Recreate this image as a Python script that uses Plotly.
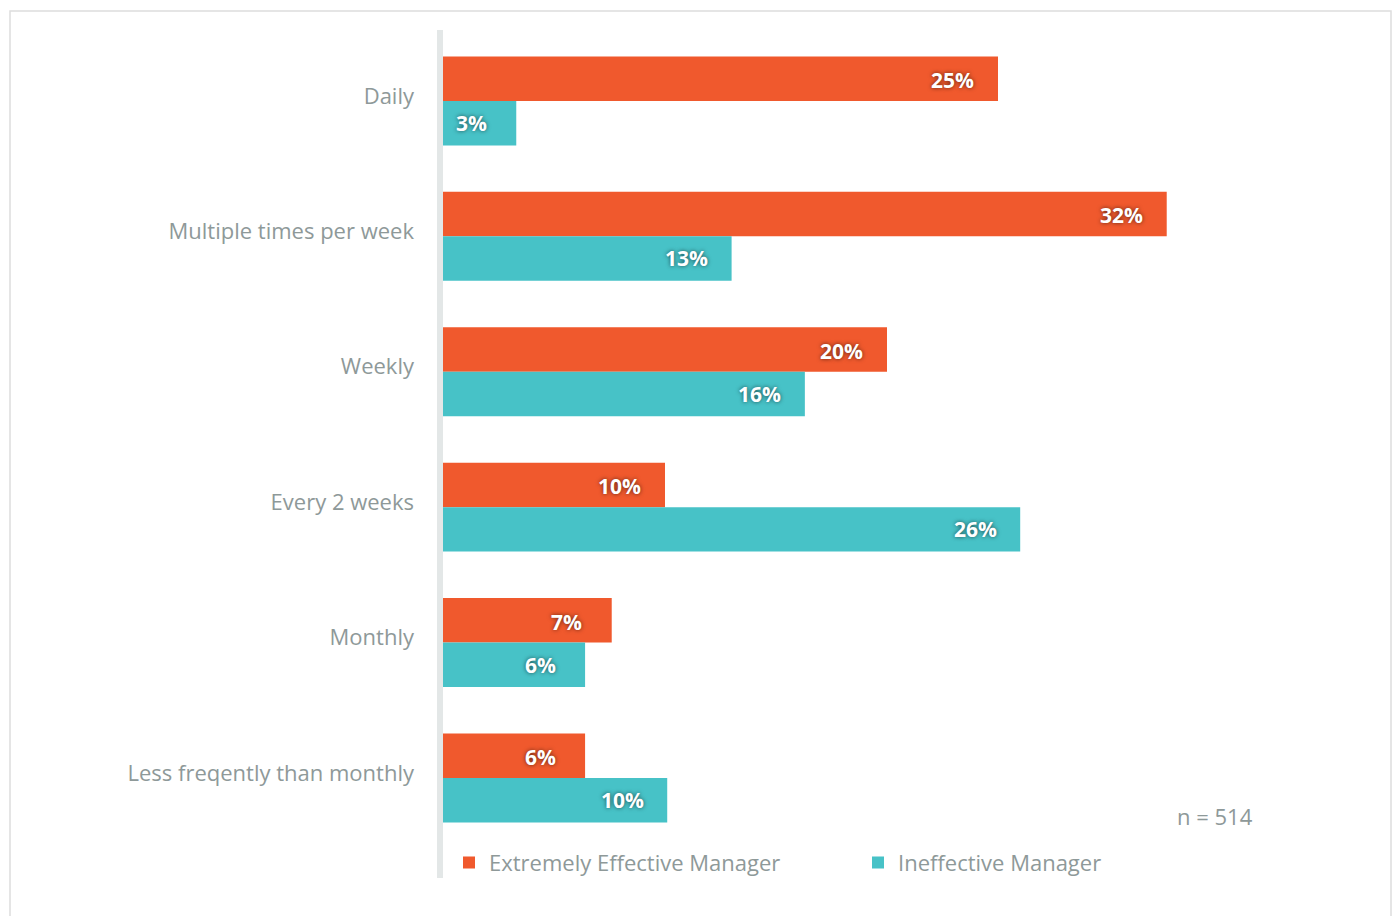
import plotly.graph_objects as go

categories = ["Daily", "Multiple times per week", "Weekly", "Every 2 weeks",
              "Monthly", "Less freqently than monthly"]
effective = [25.0, 32.6, 20.0, 10.0, 7.6, 6.4]
ineffective = [3.3, 13.0, 16.3, 26.0, 6.4, 10.1]
effective_labels = ["25%", "32%", "20%", "10%", "7%", "6%"]
ineffective_labels = ["3%", "13%", "16%", "26%", "6%", "10%"]
series_names = ["Extremely Effective Manager", "Ineffective Manager"]
note = "n = 514"

ORANGE = "#F0592D"
TEAL = "#47C2C7"
GRAY = "#8E9999"
FONT = "Open Sans, Lato, sans-serif"

fig = go.Figure()
fig.add_trace(go.Bar(y=categories, x=effective, orientation="h", name=series_names[0],
                     marker=dict(color=ORANGE, line=dict(width=0)), hoverinfo="skip"))
fig.add_trace(go.Bar(y=categories, x=ineffective, orientation="h", name=series_names[1],
                     marker=dict(color=TEAL, line=dict(width=0)), hoverinfo="skip"))

label_font = dict(family=FONT, size=21, color="white", weight="bold",
                  shadow="0px 0px 4px rgba(0,0,0,0.6)")
inset = 2.03
for cat, v, t in zip(categories, effective, effective_labels):
    fig.add_annotation(x=v - inset, y=cat, text=t, showarrow=False, yshift=21,
                       font=label_font, xanchor="center", yanchor="middle")
for cat, v, t in zip(categories, ineffective, ineffective_labels):
    fig.add_annotation(x=v - inset, y=cat, text=t, showarrow=False, yshift=-22,
                       font=label_font, xanchor="center", yanchor="middle")

fig.add_annotation(x=1.0, xref="x domain", y=0.073, yref="y domain", text=note,
                   showarrow=False, xanchor="right", yanchor="middle", xshift=-138,
                   font=dict(family=FONT, size=22, color=GRAY))

# outer frame
fig.add_shape(type="rect", xref="paper", yref="paper",
              x0=(10 - 443) / 950, x1=(1391 - 443) / 950,
              y0=(878 - 930) / 848, y1=(878 - 11) / 848,
              line=dict(color="#DDDDDD", width=1.5), fillcolor="rgba(0,0,0,0)", layer="below")
# vertical axis line
fig.add_shape(type="line", xref="paper", yref="paper",
              x0=-3 / 950, x1=-3 / 950, y0=0, y1=1,
              line=dict(color="#E3E7E7", width=6), layer="below")

fig.update_layout(
    width=1393, height=916,
    margin=dict(l=443, r=0, t=30, b=38),
    paper_bgcolor="white", plot_bgcolor="white",
    barmode="group", bargap=0.343, bargroupgap=0,
    font=dict(family=FONT, color=GRAY),
    showlegend=True,
    legend=dict(orientation="h", x=6 / 950, xanchor="left", y=0.018, yanchor="middle",
                font=dict(family=FONT, size=22, color=GRAY),
                entrywidth=364, entrywidthmode="pixels", bgcolor="rgba(0,0,0,0)",
                traceorder="normal"),
    xaxis=dict(range=[0, 950 / 22.2], showgrid=False, zeroline=False, showticklabels=False,
               showline=False, fixedrange=True),
    yaxis=dict(categoryorder="array", categoryarray=categories, range=[5.739, -0.524],
               showgrid=False, zeroline=False, showline=False, ticks="",
               tickfont=dict(family=FONT, size=22, color=GRAY),
               ticklabelstandoff=28, ticklabelshift=5, fixedrange=True),
)

fig.write_html("out.html")
